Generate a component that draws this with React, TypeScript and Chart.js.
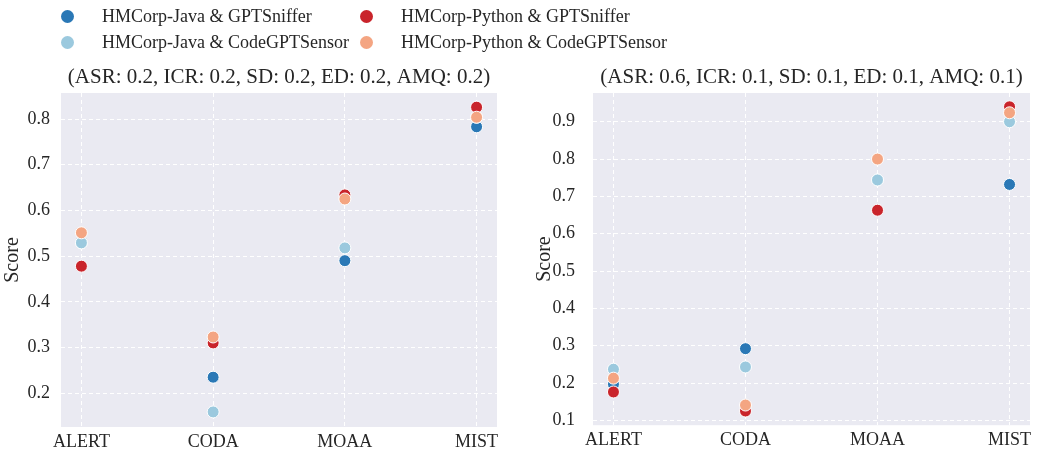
import React, { useEffect, useRef } from "react";
import { Chart, registerables } from "chart.js";

Chart.register(...registerables);

const categories = ["ALERT", "CODA", "MOAA", "MIST"];
const seriesNames = [
  "HMCorp-Java & GPTSniffer",
  "HMCorp-Java & CodeGPTSensor",
  "HMCorp-Python & GPTSniffer",
  "HMCorp-Python & CodeGPTSensor",
];
const seriesColors = ["#2a78b6", "#9bc9de", "#c9242b", "#f4a582"];

// Left panel (ASR 0.2 ...)
const leftJavaGPTSniffer = [0.529, 0.235, 0.49, 0.783];
const leftJavaCodeGPTSensor = [0.529, 0.159, 0.518, 0.804];
const leftPythonGPTSniffer = [0.478, 0.31, 0.634, 0.826];
const leftPythonCodeGPTSensor = [0.551, 0.323, 0.625, 0.804];
const leftTitle = "(ASR: 0.2, ICR: 0.2, SD: 0.2, ED: 0.2, AMQ: 0.2)";
const leftYTicks = [0.2, 0.3, 0.4, 0.5, 0.6, 0.7, 0.8];

// Right panel (ASR 0.6 ...)
const rightJavaGPTSniffer = [0.197, 0.292, 0.744, 0.732];
const rightJavaCodeGPTSensor = [0.237, 0.243, 0.744, 0.9];
const rightPythonGPTSniffer = [0.176, 0.125, 0.663, 0.94];
const rightPythonCodeGPTSensor = [0.213, 0.141, 0.8, 0.924];
const rightTitle = "(ASR: 0.6, ICR: 0.1, SD: 0.1, ED: 0.1, AMQ: 0.1)";
const rightYTicks = [0.1, 0.2, 0.3, 0.4, 0.5, 0.6, 0.7, 0.8, 0.9];

const FONT = "'Liberation Serif', 'DejaVu Serif', serif";
const TEXT = "#262626";

const bgPlugin = {
  id: "plotBg",
  beforeDraw(chart: any) {
    const { ctx, chartArea } = chart;
    ctx.save();
    ctx.fillStyle = "#eaeaf2";
    ctx.fillRect(chartArea.left, chartArea.top, chartArea.right - chartArea.left, chartArea.bottom - chartArea.top);
    ctx.restore();
  },
};

type PanelCfg = {
  series: number[][];
  title: string;
  yTicks: number[];
  yMin: number;
  yMax: number;
  yAxisWidth: number;
  yTickPad: number;
  yTitlePad: number;
  padRight: number;
};

function Panel({ cfg, left }: { cfg: PanelCfg; left: number }) {
  const ref = useRef<HTMLCanvasElement | null>(null);
  useEffect(() => {
    if (!ref.current) return;
    const datasets = cfg.series.map((vals, si) => ({
      label: seriesNames[si],
      data: vals.map((v, i) => ({ x: i, y: v })),
      backgroundColor: seriesColors[si],
      borderColor: "#ffffff",
      borderWidth: 1,
      pointRadius: 6,
      pointHoverRadius: 6,
      order: 4 - si,
    }));
    const chart = new Chart(ref.current, {
      type: "scatter",
      data: { datasets },
      plugins: [bgPlugin],
      options: {
        responsive: false,
        animation: false,
        devicePixelRatio: 1,
        layout: { padding: { top: 0, right: cfg.padRight, bottom: 0, left: 0 } },
        plugins: {
          legend: { display: false },
          tooltip: { enabled: false },
          title: {
            display: true,
            text: cfg.title,
            fullSize: false,
            color: TEXT,
            font: { family: FONT, size: 21, weight: "normal", lineHeight: 1.2 },
            padding: { top: 65, bottom: 2.8 },
          },
        },
        scales: {
          x: {
            type: "linear",
            min: -0.155,
            max: 3.155,
            afterFit: (s: any) => {
              s.height = 27;
            },
            afterBuildTicks: (s: any) => {
              s.ticks = categories.map((_, i) => ({ value: i }));
            },
            ticks: {
              color: TEXT,
              font: { family: FONT, size: 18 },
              padding: 4,
              callback: (v: any) => categories[Math.round(Number(v))] ?? "",
              maxRotation: 0,
              autoSkip: false,
            },
            grid: { color: "#ffffff", lineWidth: 1, drawTicks: false },
            border: { display: false, dash: [4, 3] },
          },
          y: {
            type: "linear",
            min: cfg.yMin,
            max: cfg.yMax,
            afterFit: (s: any) => {
              s.width = cfg.yAxisWidth;
            },
            afterBuildTicks: (s: any) => {
              s.ticks = cfg.yTicks.map((v) => ({ value: v }));
            },
            ticks: {
              color: TEXT,
              font: { family: FONT, size: 18 },
              padding: cfg.yTickPad,
              callback: (v: any) => Number(v).toFixed(1),
            },
            grid: { color: "#ffffff", lineWidth: 1, drawTicks: false },
            border: { display: false, dash: [4, 3] },
            title: {
              display: true,
              text: "Score",
              color: TEXT,
              font: { family: FONT, size: 20, lineHeight: 1.2 },
              padding: { top: cfg.yTitlePad, bottom: 0 },
            },
          },
        },
      } as any,
    });
    return () => chart.destroy();
  }, []);
  return (
    <canvas
      ref={ref}
      width={520}
      height={454}
      style={{ position: "absolute", left, top: 0, width: 520, height: 454 }}
    />
  );
}

const legendPos = [
  { x: 67, y: 16 },
  { x: 67, y: 42 },
  { x: 366, y: 16 },
  { x: 366, y: 42 },
];

export default function App() {
  useEffect(() => {
    document.body.style.margin = "0";
  }, []);
  const leftCfg: PanelCfg = {
    series: [leftJavaGPTSniffer, leftJavaCodeGPTSensor, leftPythonGPTSniffer, leftPythonCodeGPTSensor],
    title: leftTitle,
    yTicks: leftYTicks,
    yMin: 0.126,
    yMax: 0.857,
    yAxisWidth: 61,
    yTickPad: 11,
    yTitlePad: 1,
    padRight: 23,
  };
  const rightCfg: PanelCfg = {
    series: [rightJavaGPTSniffer, rightJavaCodeGPTSensor, rightPythonGPTSniffer, rightPythonCodeGPTSensor],
    title: rightTitle,
    yTicks: rightYTicks,
    yMin: 0.087,
    yMax: 0.977,
    yAxisWidth: 73,
    yTickPad: 18,
    yTitlePad: 13,
    padRight: 10,
  };
  return (
    <div style={{ position: "fixed", left: 0, top: 0, width: 1040, height: 454, background: "#ffffff", overflow: "hidden" }}>
      <Panel cfg={leftCfg} left={0} />
      <Panel cfg={rightCfg} left={520} />
      {seriesNames.map((name, i) => (
        <div key={name}>
          <div
            style={{
              position: "absolute",
              left: legendPos[i].x - 6.5,
              top: legendPos[i].y - 6.5,
              width: 13,
              height: 13,
              borderRadius: "50%",
              background: seriesColors[i],
            }}
          />
          <div
            style={{
              position: "absolute",
              left: legendPos[i].x + 35,
              top: legendPos[i].y - 11,
              height: 22,
              lineHeight: "22px",
              fontFamily: FONT,
              fontSize: 18,
              color: TEXT,
              whiteSpace: "nowrap",
            }}
          >
            {name}
          </div>
        </div>
      ))}
    </div>
  );
}
